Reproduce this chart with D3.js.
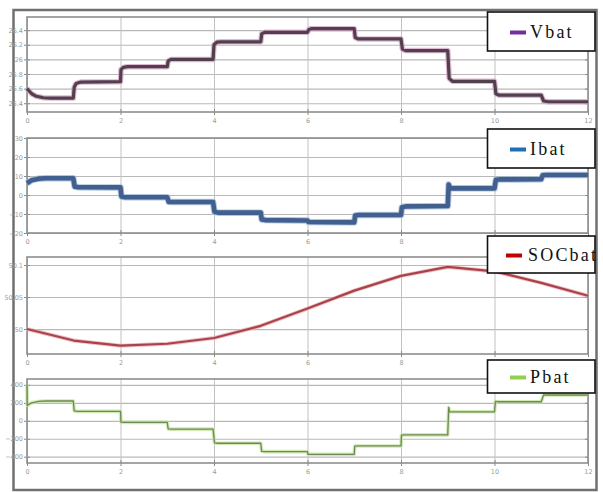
<!DOCTYPE html>
<html>
<head>
<meta charset="utf-8">
<script src="https://cdn.jsdelivr.net/npm/d3@7"></script>
<style>
  html, body { margin: 0; padding: 0; background: #fff; }
  svg { display: block; }
</style>
</head>
<body>
<svg id="chart" width="603" height="492"></svg>
<script>
// Time axis (h)
const xTicks = [0, 2, 4, 6, 8, 10, 12];

// Battery voltage (V)
const vbatTicks = [25.4, 25.6, 25.8, 26, 26.2, 26.4];
const vbatData = [
  [0, 25.6], [0.1, 25.53], [0.2, 25.495], [0.35, 25.475], [0.5, 25.47], [0.99, 25.47],
  [1.01, 25.62], [1.05, 25.67], [1.15, 25.69], [2.0, 25.695],
  [2.01, 25.86], [2.06, 25.89], [2.15, 25.9], [3.0, 25.9],
  [3.02, 25.98], [3.08, 26.0], [3.98, 26.0],
  [4.0, 26.2], [4.06, 26.235], [4.15, 26.24], [5.0, 26.24],
  [5.02, 26.35], [5.08, 26.37], [6.0, 26.37],
  [6.03, 26.41], [6.08, 26.42], [7.0, 26.42],
  [7.02, 26.3], [7.08, 26.28], [8.0, 26.28],
  [8.03, 26.14], [8.1, 26.12], [9.0, 26.12],
  [9.03, 25.74], [9.1, 25.7], [10.0, 25.7],
  [10.03, 25.53], [10.1, 25.51], [11.0, 25.51],
  [11.05, 25.43], [11.15, 25.42], [12, 25.42]
];

// Battery current (A)
const ibatTicks = [-20, -10, 0, 10, 20, 30];
const ibatData = [
  [0, 6.2], [0.1, 7.8], [0.25, 8.6], [0.4, 8.8], [0.99, 8.8],
  [1.02, 4.4], [1.1, 4.05], [2.0, 4.0],
  [2.02, -0.8], [2.1, -1.2], [3.0, -1.2],
  [3.03, -3.6], [3.1, -3.7], [3.98, -3.7],
  [4.01, -8.8], [4.1, -9.3], [5.0, -9.3],
  [5.02, -12.9], [5.1, -13.2], [6.0, -13.4],
  [6.02, -14.2], [7.0, -14.4],
  [7.02, -10.8], [7.1, -10.5], [8.0, -10.5],
  [8.02, -6.4], [8.1, -6.0], [9.0, -5.8],
  [9.02, 5.5], [9.05, 3.6], [9.1, 3.5], [10.0, 3.5],
  [10.03, 8.0], [10.1, 8.2], [11.0, 8.3],
  [11.03, 10.4], [11.1, 10.5], [12, 10.5]
];

// State of charge (%)
const socTicks = [50, 50.05, 50.1];
const socHours = [0, 1, 2, 3, 4, 5, 6, 7, 8, 9, 10, 11, 12];
const socValues = [50.0, 49.982, 49.974, 49.977, 49.986, 50.005, 50.032, 50.06, 50.083, 50.097, 50.09, 50.072, 50.052];

// Battery power (W)
const pbatTicks = [-400, -200, 0, 200, 400];
const pbatData = [
  [0, 400], [0.005, 170], [0.1, 200], [0.25, 215], [0.4, 220], [0.99, 220],
  [1.01, 110], [1.08, 105], [2.0, 105],
  [2.01, -15], [2.08, -18], [3.0, -18],
  [3.02, -90], [3.08, -93], [3.98, -93],
  [4.01, -245], [4.08, -250], [5.0, -250],
  [5.02, -340], [5.08, -343], [6.0, -343],
  [6.01, -373], [7.0, -373],
  [7.01, -282], [7.08, -280], [8.0, -280],
  [8.01, -160], [8.08, -157], [9.0, -157],
  [9.02, 150], [9.04, 100], [10.0, 100],
  [10.02, 215], [10.08, 212], [11.0, 212],
  [11.05, 287], [12, 287]
];

const legendNames = ["Vbat", "Ibat", "SOCbat", "Pbat"];

const svg = d3.select("#chart");
const left = 27, right = 588;

const x = d3.scaleLinear().domain([0, 12]).range([left, right]);

const panels = [
  { name: legendNames[0], top: 17, bottom: 112, domain: [25.28, 26.58], ticks: vbatTicks,
    data: vbatData, halo: "#d6a6c6", haloW: 5.5, core: "#52404f", coreW: 3.2, dash: "#7030a0",
    legend: { top: 12, bottom: 51 } },
  { name: legendNames[1], top: 138, bottom: 233, domain: [-20, 30], ticks: ibatTicks,
    data: ibatData, halo: "#9fb6d6", haloW: 6.5, core: "#42608f", coreW: 4.6, dash: "#1f6fb5",
    legend: { top: 129, bottom: 168 } },
  { name: legendNames[2], top: 257, bottom: 354, domain: [49.961, 50.1125], ticks: socTicks,
    data: socHours.map((h, i) => [h, socValues[i]]), halo: "#eeb0b6", haloW: 4, core: "#a8434b", coreW: 2.2,
    dash: "#c00000", legend: { top: 236, bottom: 273 } },
  { name: legendNames[3], top: 379, bottom: 463, domain: [-470, 465], ticks: pbatTicks,
    data: pbatData, halo: "#c5e3a2", haloW: 3.6, core: "#6c8a52", coreW: 1.3, dash: "#92d050",
    legend: { top: 360, bottom: 393 } }
];

// outer frame
svg.append("rect")
  .attr("x", 13.5).attr("y", 10).attr("width", 583).attr("height", 480)
  .attr("fill", "#fff").attr("stroke", "#707070").attr("stroke-width", 2.5);

const tickFmt = d => d3.format("~g")(+d.toFixed(3));

panels.forEach(p => {
  const y = d3.scaleLinear().domain(p.domain).range([p.bottom, p.top]);
  const g = svg.append("g");

  // plot background
  g.append("rect")
    .attr("x", left).attr("y", p.top)
    .attr("width", right - left).attr("height", p.bottom - p.top)
    .attr("fill", "#fff");

  // horizontal grid + left ticks
  const yAxis = d3.axisLeft(y).tickValues(p.ticks).tickFormat(tickFmt)
    .tickSize(-(right - left)).tickPadding(4);
  const ya = g.append("g").attr("transform", `translate(${left},0)`).call(yAxis);
  ya.select(".domain").remove();
  ya.selectAll(".tick line").attr("stroke", "#b9b9b9").attr("stroke-width", 1.2);
  ya.selectAll(".tick text").attr("fill", "#9a9a9a")
    .style("font", "6.5px 'DejaVu Sans', sans-serif");
  ya.selectAll(".tick").append("line")
    .attr("x1", -3).attr("x2", 3).attr("stroke", "#8a8a8a");
  ya.selectAll(".tick").append("line")
    .attr("x1", right - left - 3).attr("x2", right - left).attr("stroke", "#8a8a8a");

  // vertical grid + bottom labels
  const xAxis = d3.axisBottom(x).tickValues(xTicks).tickFormat(d3.format("d"))
    .tickSize(-(p.bottom - p.top)).tickPadding(6);
  const xa = g.append("g").attr("transform", `translate(0,${p.bottom})`).call(xAxis);
  xa.select(".domain").remove();
  xa.selectAll(".tick line").attr("stroke", "#c2c2c2").attr("stroke-width", 1);
  xa.selectAll(".tick text").attr("fill", "#9a9a9a")
    .style("font", "6.5px 'DejaVu Sans', sans-serif");
  xa.selectAll(".tick").append("line")
    .attr("y1", -3).attr("y2", 3).attr("stroke", "#8a8a8a");

  // plot border
  g.append("rect")
    .attr("x", left).attr("y", p.top)
    .attr("width", right - left).attr("height", p.bottom - p.top)
    .attr("fill", "none").attr("stroke", "#8e8e8e").attr("stroke-width", 1.6);

  // series
  const line = d3.line().x(d => x(d[0])).y(d => y(d[1]));
  g.append("path").datum(p.data).attr("d", line)
    .attr("fill", "none").attr("stroke", p.halo).attr("stroke-width", p.haloW)
    .attr("stroke-linejoin", "round").attr("opacity", 0.8);
  g.append("path").datum(p.data).attr("d", line)
    .attr("fill", "none").attr("stroke", p.core).attr("stroke-width", p.coreW)
    .attr("stroke-linejoin", "round");

  // legend box
  const lg = svg.append("g");
  lg.append("rect")
    .attr("x", 487.5).attr("y", p.legend.top)
    .attr("width", 107.5).attr("height", p.legend.bottom - p.legend.top)
    .attr("fill", "#fff").attr("stroke", "#111").attr("stroke-width", 1.6);
  const cy = (p.legend.top + p.legend.bottom) / 2;
  const long = p.name.length > 4;
  lg.append("line")
    .attr("x1", long ? 506 : 510).attr("x2", long ? 522 : 526)
    .attr("y1", cy + 1).attr("y2", cy + 1)
    .attr("stroke", p.dash).attr("stroke-width", 4);
  lg.append("text")
    .attr("x", long ? 528 : 530).attr("y", cy + 6.5)
    .attr("fill", "#111")
    .style("font", "18px 'Liberation Serif', 'DejaVu Serif', serif")
    .style("letter-spacing", "2.2px")
    .text(p.name);
});
</script>
</body>
</html>
